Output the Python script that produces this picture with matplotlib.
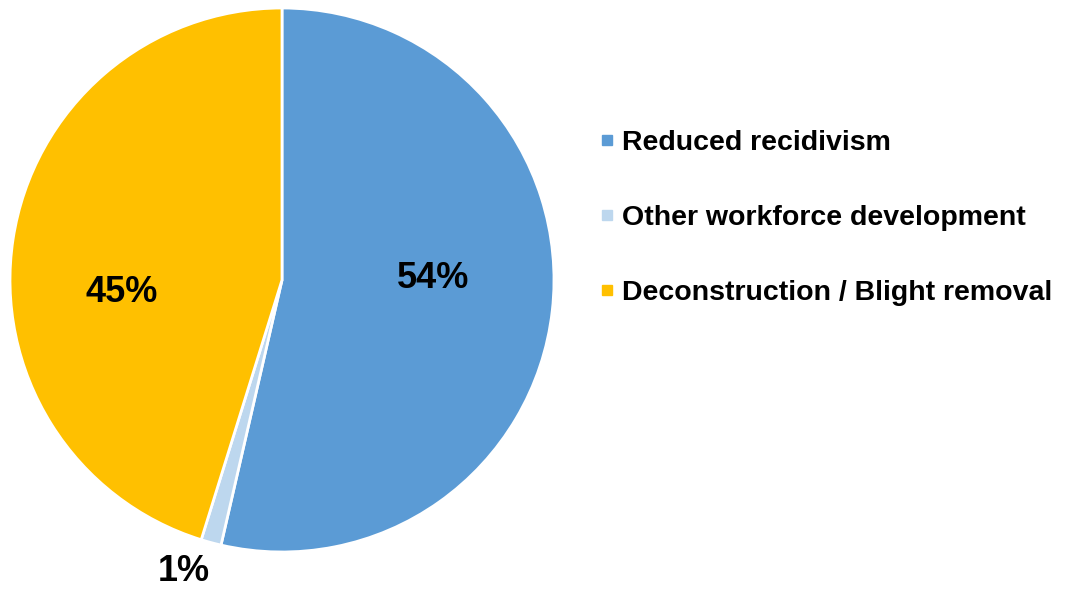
import matplotlib
matplotlib.use("Agg")
import matplotlib.pyplot as plt
import numpy as np
from matplotlib.lines import Line2D

plt.rcParams['font.family'] = ['Liberation Sans', 'DejaVu Sans']

categories = ["Reduced recidivism", "Other workforce development", "Deconstruction / Blight removal"]
values = [53.6, 1.2, 45.2]
colors = ["#5B9BD5", "#BDD7EE", "#FFC000"]

fig = plt.figure(figsize=(10.68, 5.90), dpi=100)
ax = fig.add_axes([10/1068, 38/590, 544/1068, 544/590])
wedges, _ = ax.pie(values, colors=colors, startangle=90, counterclock=False,
                   wedgeprops=dict(edgecolor="white", linewidth=2))
ax.set_xlim(-1, 1)
ax.set_ylim(-1, 1)
ax.set_aspect("equal")

# label placement: (radius, angle offset in degrees from wedge middle)
label_pos = [(0.555, 7.0), (1.13, -3.5), (0.59, 13.0)]
for w, v, (r, off) in zip(wedges, values, label_pos):
    mid = np.deg2rad((w.theta1 + w.theta2) / 2 + off)
    ax.text(r * np.cos(mid), r * np.sin(mid), f"{v:.0f}%", ha="center", va="center",
            fontsize=26, fontweight="bold", color="black")

handles = [Line2D([], [], marker="s", linestyle="none", markersize=7.5,
                  markerfacecolor=c, markeredgecolor=c) for c in colors]
fig.legend(handles, categories, loc="center left", bbox_to_anchor=(588/1068, 1 - 218/590),
           frameon=False, prop=dict(size=20.5, weight="bold"), handlelength=0.5,
           handletextpad=0.3, labelspacing=1.72, borderaxespad=0)

fig.savefig("out.png", dpi=100)
